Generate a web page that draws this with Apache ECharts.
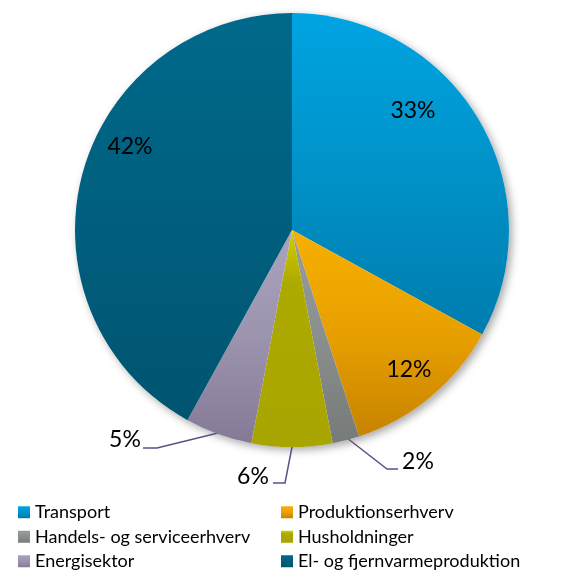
<!DOCTYPE html>
<html><head><meta charset="utf-8">
<script src="https://cdn.jsdelivr.net/npm/echarts@6/dist/echarts.min.js"></script>
<style>html,body{margin:0;padding:0;background:#fff}#c{width:565px;height:571px}</style>
</head><body><div id="c"></div>
<script>
const categories = ['Transport','Produktionserhverv','Handels- og serviceerhverv','Husholdninger','Energisektor','El- og fjernvarmeproduktion'];
const values = [33, 12, 2, 6, 5, 42];
const colorTop = ['#00A4E2','#F8AF00','#979C9C','#D2CE00','#ABA3BE','#00698B'];
const colorMid = ['#0092C8','#E8A000','#8A8F8E','#ACA900','#9C93AE','#005F7E'];
const colorBottom = ['#007CAE','#C78300','#767B7A','#A8A500','#857A95','#005470'];
const FONT = 'Lato';

function grad(i){
  return {type:'linear',x:0,y:0,x2:0,y2:1,colorStops:[
    {offset:0,color:colorTop[i]},
    {offset:i===3?0.25:0.5,color:colorMid[i]},
    {offset:1,color:colorBottom[i]}]};
}
// label placement (Excel best-fit style), indexed by data index
const labelPos = {0:[413,111],1:[409,370],5:[130,147],2:[418,462],3:[253,477],4:[125,440]};
const linePts = {
  2: [[347,438],[387,469],[398,469]],
  3: [[292,447],[285,483],[273,483]],
  4: [[218,433],[157,448],[143,448]]
};

const chart = echarts.init(document.getElementById('c'), null, {renderer:'canvas'});
const center = [292,230];
const radius = 217;
chart.setOption({
  animation:false,
  legend:{
    orient:'horizontal',left:18,top:500,width:560,padding:0,itemWidth:12,itemHeight:12,itemGap:0,icon:'rect',
    textStyle:{fontFamily:FONT,fontSize:18,color:'#000',width:246,lineHeight:24.5,overflow:'none'},
    data:categories
  },
  series:[
    {type:'pie',silent:true,center:center,radius:radius,startAngle:90,
     label:{show:false},labelLine:{show:false},z:1,
     itemStyle:{color:'#fff',shadowBlur:8,shadowOffsetX:3,shadowOffsetY:3,shadowColor:'rgba(0,0,0,0.35)'},
     data:[{value:1,name:'_bg'}],legendHoverLink:false},
    {type:'pie',center:center,radius:radius,startAngle:90,clockwise:true,z:2,
     itemStyle:{borderWidth:0},
     label:{show:true,position:'outside',overflow:'none',formatter:'{c}%',fontFamily:FONT,fontSize:23,color:'#000'},
     labelLine:{show:true,lineStyle:{color:'#5E4E88',width:1.5}},
     labelLayout:function(p){
       const pos = labelPos[p.dataIndex];
       const r = {x:pos[0],y:pos[1],align:'center',verticalAlign:'middle'};
       if(linePts[p.dataIndex]) r.labelLinePoints = linePts[p.dataIndex];
       return r;
     },
     data:categories.map((c,i)=>({
       name:c,value:values[i],
       itemStyle:{color:grad(i)},
       label:{position: linePts[i] ? 'outside' : 'inside'},
       labelLine:{show: !!linePts[i]}
     }))
    }
  ]
});
</script></body></html>
